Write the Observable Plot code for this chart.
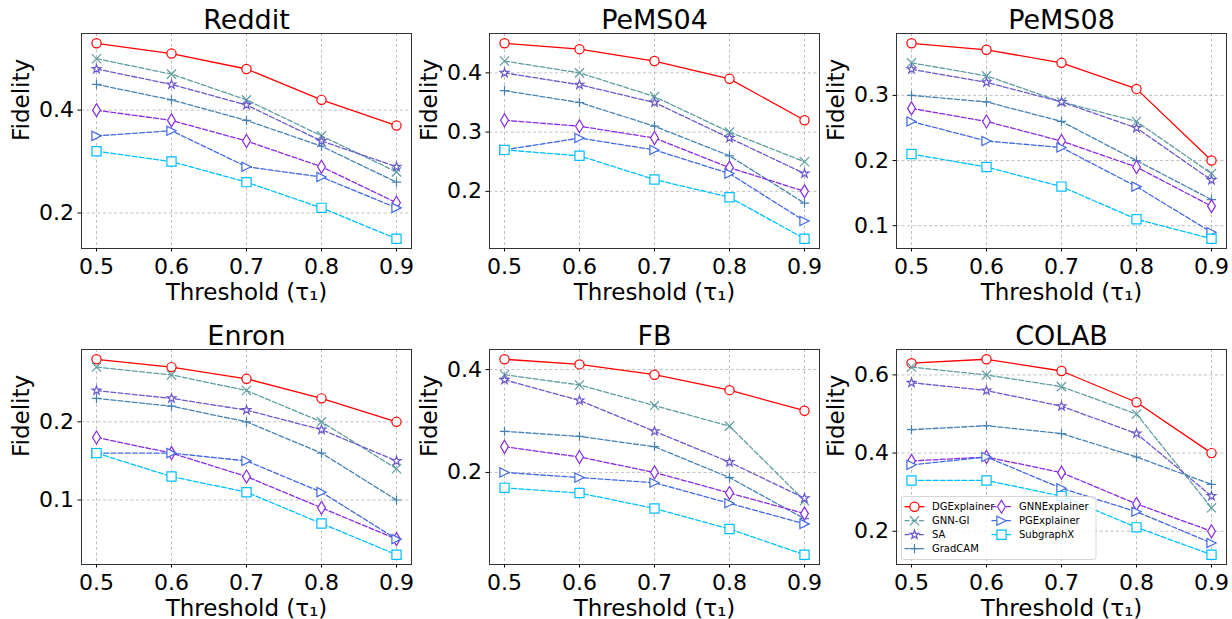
<!DOCTYPE html>
<html><head><meta charset="utf-8">
<script src="https://cdn.jsdelivr.net/npm/d3@7"></script>
<script src="https://cdn.jsdelivr.net/npm/@observablehq/plot@0.6"></script>
<style>
body{margin:0;background:#fff;font-family:"DejaVu Sans",sans-serif;}
#root{position:relative;width:1232px;height:619px;overflow:hidden;background:#fff;}
.panel{position:absolute;}
#legend{position:absolute;left:0;top:0;pointer-events:none;}
</style></head><body><div id="root"></div>
<script>
// ---------- data ----------
const thresholds = [0.5, 0.6, 0.7, 0.8, 0.9];
const methods = ["DGExplainer", "GNN-GI", "SA", "GradCAM", "GNNExplainer", "PGExplainer", "SubgraphX"];
const methodColors = ["#ff0000", "#5f9ea0", "#6a5acd", "#4682b4", "#8a2be2", "#4169e1", "#00bfff"];
const methodSymbols = ["circle", "times", "star", "plus", "thinDiamond", "triangleRight", "square"];
const datasets = ["Reddit", "PeMS04", "PeMS08", "Enron", "FB", "COLAB"];

// rows follow the order of `methods`, columns follow `thresholds`
const reddit = [
  [0.53, 0.51, 0.48, 0.42, 0.37],
  [0.50, 0.47, 0.42, 0.35, 0.28],
  [0.48, 0.45, 0.41, 0.34, 0.29],
  [0.45, 0.42, 0.38, 0.33, 0.26],
  [0.40, 0.38, 0.34, 0.29, 0.22],
  [0.35, 0.36, 0.29, 0.27, 0.21],
  [0.32, 0.30, 0.26, 0.21, 0.15]
];
const pems04 = [
  [0.45, 0.44, 0.42, 0.39, 0.32],
  [0.42, 0.40, 0.36, 0.30, 0.25],
  [0.40, 0.38, 0.35, 0.29, 0.23],
  [0.37, 0.35, 0.31, 0.26, 0.18],
  [0.32, 0.31, 0.29, 0.24, 0.20],
  [0.27, 0.29, 0.27, 0.23, 0.15],
  [0.27, 0.26, 0.22, 0.19, 0.12]
];
const pems08 = [
  [0.38, 0.37, 0.35, 0.31, 0.20],
  [0.35, 0.33, 0.29, 0.26, 0.18],
  [0.34, 0.32, 0.29, 0.25, 0.17],
  [0.30, 0.29, 0.26, 0.20, 0.14],
  [0.28, 0.26, 0.23, 0.19, 0.13],
  [0.26, 0.23, 0.22, 0.16, 0.09],
  [0.21, 0.19, 0.16, 0.11, 0.08]
];
const enron = [
  [0.28, 0.27, 0.255, 0.23, 0.20],
  [0.27, 0.26, 0.24, 0.20, 0.14],
  [0.24, 0.23, 0.215, 0.19, 0.15],
  [0.23, 0.22, 0.20, 0.16, 0.10],
  [0.18, 0.16, 0.13, 0.09, 0.05],
  [0.16, 0.16, 0.15, 0.11, 0.05],
  [0.16, 0.13, 0.11, 0.07, 0.03]
];
const fb = [
  [0.42, 0.41, 0.39, 0.36, 0.32],
  [0.39, 0.37, 0.33, 0.29, 0.145],
  [0.38, 0.34, 0.28, 0.22, 0.15],
  [0.28, 0.27, 0.25, 0.19, 0.11],
  [0.25, 0.23, 0.20, 0.16, 0.12],
  [0.20, 0.19, 0.18, 0.14, 0.10],
  [0.17, 0.16, 0.13, 0.09, 0.04]
];
const colab = [
  [0.63, 0.64, 0.61, 0.53, 0.40],
  [0.62, 0.60, 0.57, 0.50, 0.26],
  [0.58, 0.56, 0.52, 0.45, 0.29],
  [0.46, 0.47, 0.45, 0.39, 0.32],
  [0.38, 0.39, 0.35, 0.27, 0.20],
  [0.37, 0.39, 0.31, 0.25, 0.17],
  [0.33, 0.33, 0.29, 0.21, 0.14]
];
const datasetValues = [reddit, pems04, pems08, enron, fb, colab];

const redditTicks = [0.2, 0.4];
const pems04Ticks = [0.2, 0.3, 0.4];
const pems08Ticks = [0.1, 0.2, 0.3];
const enronTicks = [0.1, 0.2];
const fbTicks = [0.2, 0.4];
const colabTicks = [0.2, 0.4, 0.6];
const datasetTicks = [redditTicks, pems04Ticks, pems08Ticks, enronTicks, fbTicks, colabTicks];

const xLabel = "Threshold (τ₁)";
const yLabel = "Fidelity";

// ---------- matplotlib-like marker shapes ----------
const S = {
  circle: d3.symbolCircle,
  times: {draw(c, size) { const h = Math.sqrt(size / Math.PI);
    c.moveTo(-h, -h); c.lineTo(h, h); c.moveTo(h, -h); c.lineTo(-h, h); }},
  plus: {draw(c, size) { const h = Math.sqrt(size / Math.PI);
    c.moveTo(-h, 0); c.lineTo(h, 0); c.moveTo(0, -h); c.lineTo(0, h); }},
  star: {draw(c, size) { const R = Math.sqrt(size / Math.PI), ri = R * 0.381966;
    for (let k = 0; k < 10; k++) { const a = -Math.PI / 2 + k * Math.PI / 5, rr = k % 2 ? ri : R;
      const px = rr * Math.cos(a), py = rr * Math.sin(a); if (k) c.lineTo(px, py); else c.moveTo(px, py); }
    c.closePath(); }},
  thinDiamond: {draw(c, size) { const r = Math.sqrt(size / Math.PI), hy = 1.414 * r, hx = 0.6 * hy;
    c.moveTo(0, -hy); c.lineTo(hx, 0); c.lineTo(0, hy); c.lineTo(-hx, 0); c.closePath(); }},
  triangleRight: {draw(c, size) { const r = Math.sqrt(size / Math.PI);
    c.moveTo(r, 0); c.lineTo(-r, r); c.lineTo(-r, -r); c.closePath(); }},
  square: {draw(c, size) { const r = Math.sqrt(size / Math.PI);
    c.moveTo(-r, -r); c.lineTo(r, -r); c.lineTo(r, r); c.lineTo(-r, r); c.closePath(); }}
};

const MR = 4.6;
const fmt = d3.format(".1f");
const root = document.getElementById("root");

function panel(idx) {
  const name = datasets[idx], values = datasetValues[idx], yTicks = datasetTicks[idx];
  const col = idx % 3, row = Math.floor(idx / 3);
  const all = values.flat();
  const lo = d3.min(all), hi = d3.max(all), pad = (hi - lo) * 0.05;
  const marks = [
    Plot.gridX({ticks: thresholds, stroke: "#b0b0b0", strokeOpacity: 1, strokeWidth: 0.8, strokeDasharray: "3,2.5"}),
    Plot.gridY({ticks: yTicks, stroke: "#b0b0b0", strokeOpacity: 1, strokeWidth: 0.8, strokeDasharray: "3,2.5"})
  ];
  values.forEach((vals, j) => {
    const d = vals.map((v, k) => ({x: thresholds[k], y: v}));
    marks.push(Plot.line(d, {x: "x", y: "y", stroke: methodColors[j], strokeWidth: 1.3,
      strokeDasharray: j === 0 ? undefined : "5,2.2"}));
    marks.push(Plot.dot(d, {x: "x", y: "y", symbol: S[methodSymbols[j]], r: MR,
      stroke: methodColors[j], fill: "white", strokeWidth: 1.2}));
  });
  marks.push(
    Plot.frame({stroke: "#333", strokeWidth: 1}),
    Plot.axisX({ticks: thresholds, tickSize: 3.5, tickPadding: 6, tickFormat: fmt, label: null, fontSize: 22}),
    Plot.axisY({ticks: yTicks, tickSize: 3.5, tickPadding: 4, tickFormat: fmt, label: null, fontSize: 22}),
    Plot.text([name], {text: d => d, frameAnchor: "top", dy: -4.5, lineAnchor: "bottom", fontSize: 27}),
    Plot.text([xLabel], {text: d => d, frameAnchor: "bottom", dy: 51, lineAnchor: "bottom", fontSize: 23}),
    Plot.text([yLabel], {text: d => d, frameAnchor: "left", dx: -53, rotate: -90, lineAnchor: "bottom", fontSize: 23})
  );
  const height = row === 0 ? 310 : 309;
  const chart = Plot.plot({
    width: 412, height,
    marginLeft: 81, marginRight: 1,
    marginTop: row === 0 ? 33 : 39,
    marginBottom: row === 0 ? 62 : 55,
    x: {domain: [0.48, 0.92]},
    y: {domain: [lo - pad, hi + pad]},
    style: {fontFamily: "DejaVu Sans", fontSize: "22px", background: "transparent", overflow: "visible", color: "black"},
    marks
  });
  chart.classList.add("panel");
  chart.style.left = (col * 407.5) + "px";
  chart.style.top = (row * 310) + "px";
  root.appendChild(chart);
}
datasets.forEach((_, i) => panel(i));

// ---------- legend (inside COLAB panel) ----------
const lg = d3.select(root).append("svg").attr("id", "legend").attr("width", 1232).attr("height", 619);
lg.append("rect").attr("x", 901.5).attr("y", 496.5).attr("width", 194.5).attr("height", 63)
  .attr("rx", 2.5).attr("fill", "white").attr("fill-opacity", 0.8).attr("stroke", "#cccccc").attr("stroke-width", 0.8);
methods.forEach((m, j) => {
  const c = j < 4 ? 0 : 1, r = j < 4 ? j : j - 4;
  const cx = c === 0 ? 914.5 : 1001.5, y = 506.7 + r * 14;
  const g = lg.append("g");
  g.append("line").attr("x1", cx - 10).attr("x2", cx + 10).attr("y1", y).attr("y2", y)
    .attr("stroke", methodColors[j]).attr("stroke-width", 1.3)
    .attr("stroke-dasharray", j === 0 ? null : "5,2.2");
  g.append("path").attr("transform", `translate(${cx},${y})`)
    .attr("d", d3.symbol(S[methodSymbols[j]], MR * MR * Math.PI)())
    .attr("fill", "white").attr("stroke", methodColors[j]).attr("stroke-width", 1.2);
  g.append("text").attr("x", cx + 17.5).attr("y", y).attr("dy", "0.35em")
    .attr("font-family", "DejaVu Sans").attr("font-size", 10).text(m);
});
</script></body></html>
